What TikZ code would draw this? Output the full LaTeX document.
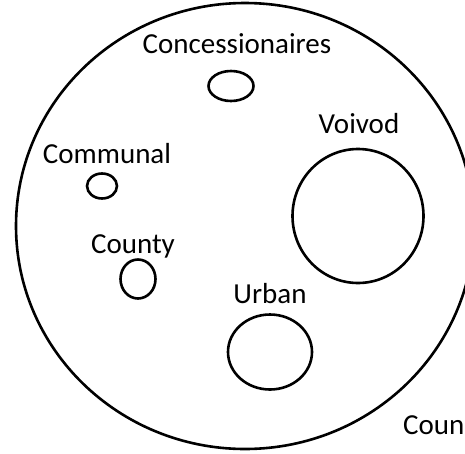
\documentclass[tikz,border=0pt]{standalone}
\usepackage{fontspec}
\setmainfont{Carlito}
\usetikzlibrary{shapes.geometric}
\begin{document}
\begin{tikzpicture}[x=1pt,y=-1pt,
  ring/.style={draw=black,line width=2.6pt,ellipse,inner sep=0pt},
  lbl/.style={inner sep=0pt,anchor=base,font=\fontsize{29}{34}\selectfont}]
\useasboundingbox (0,0) rectangle (465,453);
\node[ring,minimum width=458pt,minimum height=446pt] (outer) at (245,226) {};
\node[ring,minimum width=45pt,minimum height=30pt] (conc) at (231,86) {};
\node[ring,minimum width=131pt,minimum height=134pt] (voiv) at (358,216) {};
\node[ring,minimum width=30pt,minimum height=25pt] (comm) at (102,186) {};
\node[ring,minimum width=35pt,minimum height=39pt] (coun) at (138,279) {};
\node[ring,minimum width=84pt,minimum height=75pt] (urb) at (270,352) {};
\node[lbl] (tconc) at (237,53) {Concessionaires};
\node[lbl] (tvoiv) at (359,133) {Voivod};
\node[lbl] (tcomm) at (107,163) {Communal};
\node[lbl] (tcoun) at (133,253) {County};
\node[lbl] (turb) at (270,303) {Urban};
\node[lbl,anchor=base west] (tcountry) at (403,434) {Coun};
\end{tikzpicture}
\end{document}
